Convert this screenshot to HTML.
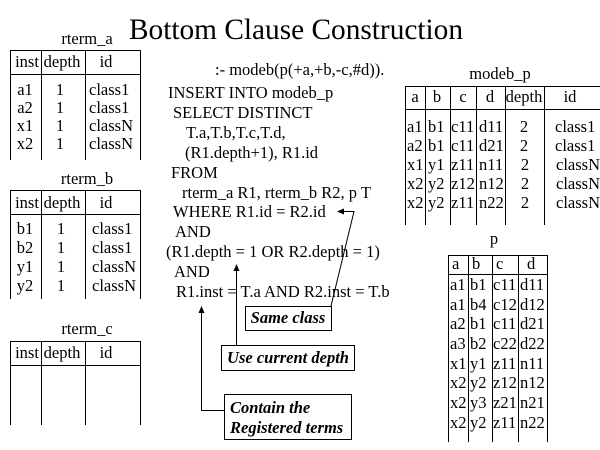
<!DOCTYPE html>
<html><head><meta charset="utf-8"><style>
html,body{margin:0;padding:0;background:#fff;}
svg{display:block;}
text{font-family:"Liberation Serif","Times New Roman",serif;font-size:16.5px;fill:#000;}
.t{font-size:29.5px;}
.bi{font-weight:bold;font-style:italic;}
</style></head><body>
<svg width="600" height="450" viewBox="0 0 600 450" xmlns="http://www.w3.org/2000/svg">
<rect width="600" height="450" fill="#fff"/>
<text class="t" x="129" y="39" textLength="334" lengthAdjust="spacingAndGlyphs">Bottom Clause Construction</text>

<g stroke="#000" stroke-width="1" fill="none" shape-rendering="crispEdges">
<!-- rterm_a -->
<line x1="10" y1="50.5" x2="140" y2="50.5"/>
<line x1="10" y1="74.5" x2="140" y2="74.5"/>
<line x1="10.5" y1="50" x2="10.5" y2="160"/>
<line x1="41.5" y1="50" x2="41.5" y2="160"/>
<line x1="85.5" y1="50" x2="85.5" y2="160"/>
<line x1="140.5" y1="50" x2="140.5" y2="160"/>
<!-- rterm_b -->
<line x1="10" y1="190.5" x2="140" y2="190.5"/>
<line x1="10" y1="214.5" x2="140" y2="214.5"/>
<line x1="10.5" y1="190" x2="10.5" y2="299"/>
<line x1="41.5" y1="190" x2="41.5" y2="299"/>
<line x1="85.5" y1="190" x2="85.5" y2="299"/>
<line x1="140.5" y1="190" x2="140.5" y2="299"/>
<!-- rterm_c -->
<line x1="10" y1="341.5" x2="140" y2="341.5"/>
<line x1="10" y1="365.5" x2="140" y2="365.5"/>
<line x1="10.5" y1="341" x2="10.5" y2="425"/>
<line x1="41.5" y1="341" x2="41.5" y2="425"/>
<line x1="85.5" y1="341" x2="85.5" y2="425"/>
<line x1="140.5" y1="341" x2="140.5" y2="425"/>
<!-- modeb_p -->
<line x1="405" y1="86.5" x2="600" y2="86.5"/>
<line x1="405" y1="109.5" x2="600" y2="109.5"/>
<line x1="405.5" y1="86" x2="405.5" y2="225"/>
<line x1="425.5" y1="86" x2="425.5" y2="225"/>
<line x1="450.5" y1="86" x2="450.5" y2="225"/>
<line x1="476.5" y1="86" x2="476.5" y2="225"/>
<line x1="505.5" y1="86" x2="505.5" y2="225"/>
<line x1="544.5" y1="86" x2="544.5" y2="225"/>
<!-- p -->
<line x1="448" y1="255.5" x2="547" y2="255.5"/>
<line x1="448" y1="274.5" x2="547" y2="274.5"/>
<line x1="448.5" y1="255" x2="448.5" y2="442"/>
<line x1="468.5" y1="255" x2="468.5" y2="442"/>
<line x1="492.5" y1="255" x2="492.5" y2="442"/>
<line x1="518.5" y1="255" x2="518.5" y2="442"/>
<line x1="547.5" y1="255" x2="547.5" y2="442"/>
<!-- callout boxes -->
<rect x="245.5" y="306.5" width="86" height="24"/>
<rect x="221.5" y="345.5" width="133" height="25"/>
<rect x="224.5" y="394.5" width="127" height="45"/>
<!-- connectors -->
<line x1="236.5" y1="268" x2="236.5" y2="345"/>
<polyline points="201.5,310 201.5,410.5 224,410.5"/>
</g>
<g stroke="#000" stroke-width="1" fill="none">
<polyline points="331,306 354,211.5 342,211.5"/>
</g>
<g fill="#000">
<polygon points="337,211.5 344,208.5 344,214.5"/>
<polygon points="236.5,264 233.5,271 239.5,271"/>
<polygon points="201.5,306 198.5,313 204.5,313"/>
</g>

<!-- rterm_a -->
<text x="87" y="44" text-anchor="middle">rterm_a</text>
<text x="27" y="67" text-anchor="middle">inst</text>
<text x="62" y="67" text-anchor="middle">depth</text>
<text x="106" y="67" text-anchor="middle">id</text>
<text x="25" y="95" text-anchor="middle">a1</text><text x="60" y="95" text-anchor="middle">1</text><text x="89" y="95">class1</text>
<text x="25" y="113" text-anchor="middle">a2</text><text x="60" y="113" text-anchor="middle">1</text><text x="89" y="113">class1</text>
<text x="25" y="131" text-anchor="middle">x1</text><text x="60" y="131" text-anchor="middle">1</text><text x="89" y="131">classN</text>
<text x="25" y="149" text-anchor="middle">x2</text><text x="60" y="149" text-anchor="middle">1</text><text x="89" y="149">classN</text>

<!-- rterm_b -->
<text x="87" y="184" text-anchor="middle">rterm_b</text>
<text x="27" y="208" text-anchor="middle">inst</text>
<text x="62" y="208" text-anchor="middle">depth</text>
<text x="106" y="208" text-anchor="middle">id</text>
<text x="25" y="234" text-anchor="middle">b1</text><text x="61" y="234" text-anchor="middle">1</text><text x="92" y="234">class1</text>
<text x="25" y="253" text-anchor="middle">b2</text><text x="61" y="253" text-anchor="middle">1</text><text x="92" y="253">class1</text>
<text x="25" y="272" text-anchor="middle">y1</text><text x="61" y="272" text-anchor="middle">1</text><text x="92" y="272">classN</text>
<text x="25" y="291" text-anchor="middle">y2</text><text x="61" y="291" text-anchor="middle">1</text><text x="92" y="291">classN</text>

<!-- rterm_c -->
<text x="87" y="334" text-anchor="middle">rterm_c</text>
<text x="27" y="358" text-anchor="middle">inst</text>
<text x="62" y="358" text-anchor="middle">depth</text>
<text x="106" y="358" text-anchor="middle">id</text>

<!-- SQL -->
<text x="215" y="75">:- modeb(p(+a,+b,-c,#d)).</text>
<text x="168" y="98">INSERT INTO modeb_p</text>
<text x="173" y="118">SELECT DISTINCT</text>
<text x="186" y="138">T.a,T.b,T.c,T.d,</text>
<text x="185" y="158">(R1.depth+1), R1.id</text>
<text x="171" y="178">FROM</text>
<text x="182" y="198">rterm_a R1, rterm_b R2, p T</text>
<text x="173" y="217">WHERE R1.id = R2.id</text>
<text x="175" y="237">AND</text>
<text x="166" y="257">(R1.depth = 1 OR R2.depth = 1)</text>
<text x="174" y="277">AND</text>
<text x="176" y="297">R1.inst = T.a AND R2.inst = T.b</text>

<!-- callout texts -->
<text class="bi" x="288" y="323" text-anchor="middle">Same class</text>
<text class="bi" x="288" y="363" text-anchor="middle">Use current depth</text>
<text class="bi" x="230" y="413">Contain the</text>
<text class="bi" x="230" y="433">Registered terms</text>

<!-- modeb_p -->
<text x="500" y="79" text-anchor="middle">modeb_p</text>
<text x="415" y="102" text-anchor="middle">a</text>
<text x="437" y="102" text-anchor="middle">b</text>
<text x="463" y="102" text-anchor="middle">c</text>
<text x="490" y="102" text-anchor="middle">d</text>
<text x="524" y="102" text-anchor="middle">depth</text>
<text x="570" y="102" text-anchor="middle">id</text>
<g>
<text x="407" y="132">a1</text><text x="428" y="132">b1</text><text x="451" y="132">c11</text><text x="479" y="132">d11</text><text x="524" y="132" text-anchor="middle">2</text><text x="555" y="132">class1</text>
<text x="407" y="151">a2</text><text x="428" y="151">b1</text><text x="451" y="151">c11</text><text x="479" y="151">d21</text><text x="524" y="151" text-anchor="middle">2</text><text x="555" y="151">class1</text>
<text x="407" y="170">x1</text><text x="428" y="170">y1</text><text x="451" y="170">z11</text><text x="479" y="170">n11</text><text x="525" y="170" text-anchor="middle">2</text><text x="556" y="170">classN</text>
<text x="407" y="189">x2</text><text x="428" y="189">y2</text><text x="451" y="189">z12</text><text x="479" y="189">n12</text><text x="525" y="189" text-anchor="middle">2</text><text x="556" y="189">classN</text>
<text x="407" y="208">x2</text><text x="428" y="208">y2</text><text x="451" y="208">z11</text><text x="479" y="208">n22</text><text x="525" y="208" text-anchor="middle">2</text><text x="556" y="208">classN</text>
</g>

<!-- p -->
<text x="494" y="244" text-anchor="middle">p</text>
<text x="452" y="269">a</text>
<text x="472" y="269">b</text>
<text x="496" y="269">c</text>
<text x="527" y="269">d</text>
<g>
<text x="450" y="290">a1</text><text x="470" y="290">b1</text><text x="493" y="290">c11</text><text x="520" y="290">d11</text>
<text x="450" y="310">a1</text><text x="470" y="310">b4</text><text x="493" y="310">c12</text><text x="520" y="310">d12</text>
<text x="450" y="329">a2</text><text x="470" y="329">b1</text><text x="493" y="329">c11</text><text x="520" y="329">d21</text>
<text x="450" y="349">a3</text><text x="470" y="349">b2</text><text x="493" y="349">c22</text><text x="520" y="349">d22</text>
<text x="450" y="369">x1</text><text x="470" y="369">y1</text><text x="493" y="369">z11</text><text x="520" y="369">n11</text>
<text x="450" y="388">x2</text><text x="470" y="388">y2</text><text x="493" y="388">z12</text><text x="520" y="388">n12</text>
<text x="450" y="408">x2</text><text x="470" y="408">y3</text><text x="493" y="408">z21</text><text x="520" y="408">n21</text>
<text x="450" y="428">x2</text><text x="470" y="428">y2</text><text x="493" y="428">z11</text><text x="520" y="428">n22</text>
</g>
</svg>
</body></html>
